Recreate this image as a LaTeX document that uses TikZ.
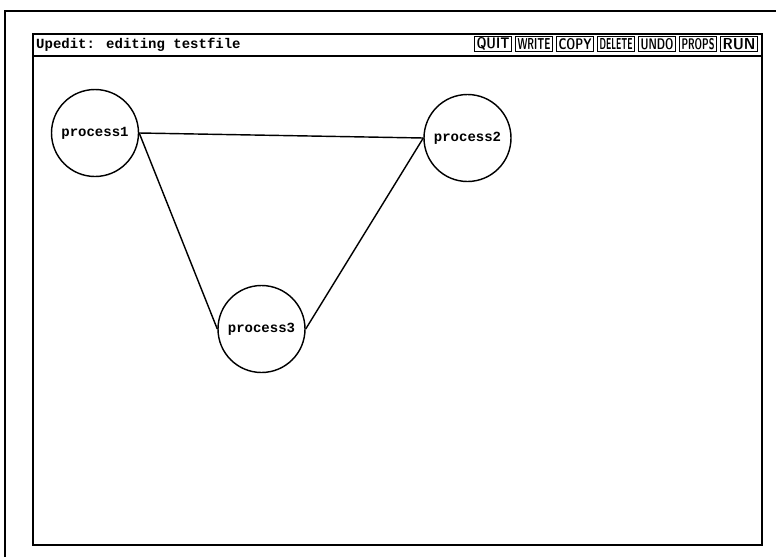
\documentclass[tikz,border=0pt]{standalone}
\usepackage{fontspec}
\usepackage{graphicx}
\newfontfamily\termfont{Liberation Mono}
\tikzset{
	proc/.style={draw, circle, minimum size=87pt, inner sep=0pt, line width=0.5mm, font=\termfont\bfseries\fontsize{14}{14}\selectfont},
	btn/.style={draw, line width=0.6mm, minimum width=37pt, minimum height=15pt, inner sep=0pt},
	link/.style={line width=0.5mm},
}
\newcommand{\btnlabel}[1]{\resizebox{33pt}{11pt}{\sffamily\bfseries #1}}
\begin{document}
\begin{tikzpicture}[x=1pt, y=-1pt]
		%%%%% START %%%%%
		\useasboundingbox (0, 0) rectangle (776, 557);
		
		\draw[line width=0.8mm] (5, 557) -- (5, 11) -- (776, 11);
		
		\draw[line width=0.8mm] (33, 34) rectangle (762, 545);
		\draw[line width=0.6mm] (33, 56) -- (762, 56);
		
		\node[anchor=west, inner sep=0pt, font=\termfont\bfseries\fontsize{14}{14}\selectfont] (title) at (36, 45) {Upedit: editing testfile};
		
		\foreach \lbl [count=\i] in {QUIT,WRITE,COPY,DELETE,UNDO,PROPS,RUN}
			\node[btn] (btn\i) at ({452+41*\i}, 44) {\btnlabel{\lbl}};
		
		\node[proc] (p1) at (95, 133) {process1};
		\node[proc] (p2) at (467.5, 138) {process2};
		\node[proc] (p3) at (261.5, 329) {process3};
		
		\draw[link] (p1.east) -- (p2.west);
		\draw[link] (p1.east) -- (p3.west);
		\draw[link] (p2.west) -- (p3.east);
		
		%%%%% END %%%%%
	\end{tikzpicture}
\end{document}
